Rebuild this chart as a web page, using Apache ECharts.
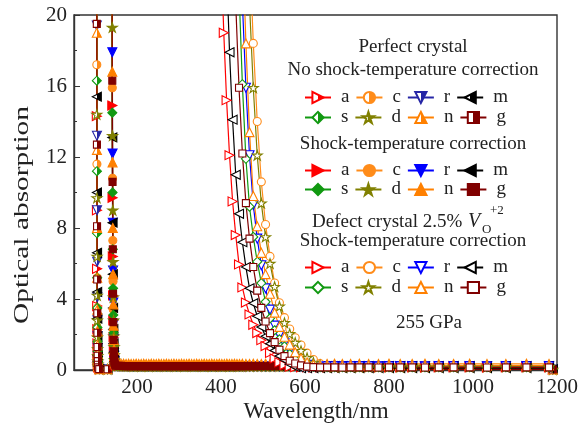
<!DOCTYPE html>
<html><head><meta charset="utf-8">
<script src="https://cdn.jsdelivr.net/npm/echarts@6/dist/echarts.min.js"></script>
<style>html,body{margin:0;padding:0;background:#fff}#c{width:587px;height:425px}</style>
</head><body><div id="c"></div>
<script>
const FONT = 'Liberation Serif';
const keys = ['a','c','r','m','s','d','n','g'];
const xTickLabels = [200,400,600,800,1000,1200];
const xMinorTicks = [100,300,500,700,900,1100];

// ---- Perfect crystal, no shock-temperature correction (edge near 105 nm)
const e1Wl = [104.0,104.3,104.6,104.9,105.2,105.5,105.8,106.1,106.4,106.7,107.0,107.3];
const nc_a = [22.5,14.3,9.0,5.7,3.6,2.3,1.5,0.95,0.6,0.38,0.24,0.15];
const nc_c = [26,17.2,11.6,7.8,5.2,3.5,2.3,1.5,1.0,0.65,0.4,0.25];
const nc_r = [28.5,19.4,13.2,9.0,6.1,4.1,2.8,1.9,1.25,0.8,0.5,0.3];
const nc_m = [23.5,15.4,10.0,6.6,4.4,2.9,1.9,1.25,0.8,0.5,0.3,0.18];
const nc_s = [23.8,16.3,11.2,7.7,5.2,3.5,2.4,1.6,1.05,0.7,0.45,0.28];
const nc_d = [21.5,14.4,9.7,6.4,4.2,2.8,1.85,1.2,0.8,0.5,0.32,0.2];
const nc_n = [29.5,19.0,12.4,8.0,5.2,3.4,2.2,1.4,0.9,0.55,0.35,0.2];
const nc_g = [30,19.5,12.7,8.1,5.1,3.2,2.1,1.3,0.8,0.5,0.3,0.15];
const tail1Wl = [110,130,1190];
const tail1Y = [0.05,0.04,0.03];

// ---- Perfect crystal, shock-temperature correction (edge near 143 nm)
const e2Wl = [140.0,140.6,141.2,141.8,142.4,143.0,143.6,144.2,144.8,145.4,146.0,146.6,147.2];
const sc_a = [33,22.6,14.9,9.7,6.4,4.2,2.8,1.85,1.2,0.8,0.55,0.38,0.3];
const sc_c = [34,23.3,15.9,10.8,7.3,5.0,3.4,2.3,1.55,1.05,0.7,0.45,0.3];
const sc_r = [39,26.5,17.9,12.2,8.3,5.6,3.8,2.6,1.75,1.2,0.8,0.5,0.32];
const sc_m = [30,20.4,13.1,8.3,5.4,3.5,2.3,1.5,1.0,0.65,0.45,0.33,0.28];
const sc_s = [31,21,14.5,10.0,6.8,4.6,3.1,2.1,1.4,0.95,0.62,0.42,0.3];
const sc_d = [42,28.5,19.3,13.2,9.0,6.1,4.1,2.8,1.9,1.3,0.85,0.55,0.35];
const sc_n = [36,24.5,16.8,11.7,8.0,5.4,3.7,2.5,1.7,1.15,0.8,0.55,0.38];
const sc_g = [39,25.3,16.3,10.6,6.8,4.3,2.7,1.7,1.05,0.7,0.5,0.38,0.3];
const baseWl = [150,156,162,168,174,180,186,192,198,204,210,216,222,228,234,240,246,252,258,264,
  270,276,282,288,294,300,306,312,318,324,330,336,342,348,354,360,366,372,378,384,
  390,396,402,408,414,420,426,432,438,444,
  450.9,459.3,467.9,476.9,486.3,496.0,506.1,516.7,527.7,539.1,551.1,563.6,576.7,590.5,604.9,620.0,635.9,
  652.6,670.3,688.9,708.6,729.4,751.5,775.0,800.0,826.7,855.2,885.7,918.5,953.8,992.0,1033.3,1078.3,1127.3,1181.0];
const base2 = [0.24,0.23,0.23,0.22,0.22,0.22,0.22,0.21,0.22,0.22,0.21,0.22,0.22,0.21,0.22,0.22,0.21,0.22,0.22,0.22,
  0.21,0.22,0.22,0.22,0.21,0.22,0.22,0.21,0.22,0.22,0.22,0.21,0.22,0.22,0.22,0.21,0.22,0.22,0.21,0.22,
  0.22,0.22,0.21,0.22,0.22,0.21,0.22,0.22,0.22,0.21,
  0.22,0.22,0.21,0.22,0.22,0.22,0.21,0.22,0.22,0.21,0.22,0.22,0.22,0.21,0.22,0.22,0.21,
  0.22,0.22,0.22,0.21,0.22,0.22,0.21,0.22,0.22,0.22,0.21,0.22,0.22,0.22,0.21,0.22,0.22,0.22];
const base2n = [0.37,0.36,0.35,0.35,0.34,0.35,0.34,0.34,0.35,0.34,0.34,0.35,0.34,0.34,0.35,0.34,0.34,0.35,0.34,0.34,
  0.35,0.34,0.34,0.35,0.34,0.34,0.35,0.34,0.34,0.35,0.34,0.34,0.35,0.34,0.34,0.35,0.34,0.34,0.35,0.34,
  0.34,0.35,0.34,0.34,0.35,0.34,0.34,0.35,0.34,0.34,
  0.35,0.34,0.34,0.35,0.34,0.34,0.35,0.34,0.34,0.35,0.34,0.34,0.35,0.34,0.34,0.35,0.34,
  0.34,0.35,0.34,0.34,0.35,0.34,0.34,0.35,0.34,0.34,0.35,0.34,0.34,0.35,0.34,0.34,0.35,0.34];

// ---- Defect crystal 2.5% V_O^{+2}, shock-temperature correction (edges 400-650 nm)
const defWl = [393.7,400.0,406.6,413.3,420.3,427.6,435.1,442.9,450.9,459.3,467.9,476.9,486.3,496.0,506.1,516.7,
  527.7,539.1,551.1,563.6,576.7,590.5,604.9,620.0,635.9,652.6,670.3,688.9,708.6,729.4,751.5,775.0,800.0,
  826.7,855.2,885.7,918.5,953.8,992.0,1033.3,1078.3,1127.3,1181.0];
const df_a = [29.1,23.6,19.0,15.2,12.1,9.5,7.6,5.95,4.65,3.8,3.13,2.55,2.08,1.68,1.35,0.96,0.65,0.43,0.28,0.19,0.16,
  0.15,0.15,0.14,0.15,0.15,0.15,0.14,0.15,0.15,0.15,0.14,0.15,0.15,0.15,0.14,0.15,0.15,0.15,0.14,0.15,0.15,0.15];
const df_m = [null,35.1,28.2,22.6,17.9,14.1,11.0,8.8,7.2,5.8,4.6,3.76,3.03,2.42,1.90,1.48,1.10,0.79,0.56,0.33,0.17,
  0.10,0.10,0.11,0.10,0.10,0.11,0.10,0.10,0.11,0.10,0.10,0.11,0.10,0.10,0.11,0.10,0.10,0.11,0.10,0.10,0.11,0.10];
const df_g = [null,null,null,null,33.6,26.4,20.6,15.9,12.2,9.4,7.4,5.8,4.47,3.5,2.73,2.08,1.57,1.14,0.78,0.52,0.37,
  0.26,0.19,0.16,0.15,0.15,0.15,0.14,0.15,0.15,0.15,0.14,0.15,0.15,0.15,0.14,0.15,0.15,0.15,0.14,0.15,0.15,0.15];
const df_s = [null,null,null,null,null,35.5,27.7,21.4,16.1,11.9,9.2,7.5,6.1,4.9,3.84,2.91,2.24,1.73,1.33,0.90,0.59,
  0.38,0.24,0.18,0.16,0.16,0.16,0.15,0.16,0.16,0.16,0.15,0.16,0.16,0.16,0.15,0.16,0.16,0.16,0.15,0.16,0.16,0.16];
const df_r = [null,null,null,null,null,null,34.0,26.7,20.7,15.9,12.1,9.3,7.4,5.9,4.6,3.4,2.5,1.96,1.51,1.10,0.74,
  0.50,0.29,0.21,0.20,0.20,0.20,0.19,0.20,0.20,0.20,0.19,0.20,0.20,0.20,0.19,0.20,0.20,0.20,0.19,0.20,0.20,0.20];
const df_n = [null,null,null,null,null,null,null,31.8,24.4,18.4,13.4,9.8,8.1,6.6,5.4,4.3,3.23,2.43,1.87,1.43,1.0,
  0.66,0.43,0.30,0.26,0.25,0.25,0.24,0.25,0.25,0.25,0.24,0.25,0.25,0.25,0.24,0.25,0.25,0.25,0.24,0.25,0.25,0.25];
const df_d = [null,null,null,null,null,null,null,null,33.7,26.4,20.6,15.9,12.1,9.4,7.5,6.0,4.7,3.59,2.66,2.04,1.55,
  1.09,0.69,0.43,0.26,0.19,0.18,0.18,0.18,0.17,0.18,0.18,0.18,0.17,0.18,0.18,0.18,0.17,0.18,0.18,0.18,0.17,0.18];
const df_c = [null,null,null,null,null,null,null,null,null,30.6,23.8,18.4,14.0,10.6,8.2,6.4,4.9,3.79,2.95,2.31,1.82,
  1.41,0.95,0.59,0.36,0.24,0.22,0.22,0.22,0.21,0.22,0.22,0.22,0.21,0.22,0.22,0.22,0.21,0.22,0.22,0.22,0.21,0.22];

// ---- styles
const COL1 = {a:'#ff0000', c:'#ff8c1a', r:'#2626a6', m:'#000000', s:'#119911', d:'#808000', n:'#ff8000', g:'#800000'};
const COL = {a:'#ff0000', c:'#ff8c1a', r:'#0000ff', m:'#000000', s:'#119911', d:'#808000', n:'#ff8000', g:'#800000'};
const SYM = {
  a:'path://M0,0L10,5L0,10Z', c:'circle', r:'path://M0,0L10,0L5,10Z', m:'path://M10,0L0,5L10,10Z',
  s:'diamond', d:'path://M5,0L6.2,3.6L10,3.6L6.9,5.9L8.1,9.5L5,7.3L1.9,9.5L3.1,5.9L0,3.6L3.8,3.6Z',
  n:'triangle', g:'rect'};
const SIZE = {a:9, c:8, r:9, m:9, s:9, d:10, n:9, g:7};

function pairs(xs, ys) {
  const out = [];
  for (let i = 0; i < xs.length; i++) if (ys[i] != null) out.push([xs[i], ys[i]]);
  return out;
}
const half = c => ({type:'linear', x:0, y:0, x2:1, y2:0, colorStops:[
  {offset:0,color:'#ffffff'},{offset:0.5,color:'#ffffff'},{offset:0.5,color:c},{offset:1,color:c}]});

const G1 = {a:nc_a,c:nc_c,r:nc_r,m:nc_m,s:nc_s,d:nc_d,n:nc_n,g:nc_g};
const G2 = {a:sc_a,c:sc_c,r:sc_r,m:sc_m,s:sc_s,d:sc_d,n:sc_n,g:sc_g};
const G3 = {a:df_a,c:df_c,r:df_r,m:df_m,s:df_s,d:df_d,n:df_n,g:df_g};

function mk(name, k, data, color, fill, z) {
  return {
    name, type:'line', data, symbol:SYM[k], symbolSize:SIZE[k], symbolKeepAspect:true,
    lineStyle:{color, width:1.2}, itemStyle:{color:fill, borderColor:color, borderWidth:1.1},
    z, silent:true, animation:false, clip:true, emphasis:{disabled:true}, legendHoverLink:false
  };
}
const series = [];
keys.forEach(k => series.push(mk(k+'1', k,
  pairs(e1Wl, G1[k]).concat(pairs(tail1Wl, tail1Y)), COL1[k], half(COL1[k]), 2)));
keys.forEach(k => series.push(mk(k+'2', k,
  pairs(e2Wl, G2[k]).concat(pairs(baseWl, k === 'n' ? base2n : base2)), COL[k], COL[k], 3)));
keys.forEach(k => series.push(mk(k+'3', k, pairs(defWl, G3[k]), COL[k], '#ffffff', 4)));

function legendRow(names, top) {
  return {
    data: names, left: 304, top, orient:'horizontal', padding:0,
    itemWidth:26, itemHeight:14, itemGap:6, selectedMode:false,
    formatter: n => n.charAt(0),
    textStyle:{fontFamily:FONT, fontSize:19, color:'#222', width:15, padding:[0,0,0,5]}
  };
}
const row1 = ['a','c','r','m'], row2 = ['s','d','n','g'];
const legends = [
  legendRow(row1.map(k=>k+'1'), 88), legendRow(row2.map(k=>k+'1'), 108),
  legendRow(row1.map(k=>k+'2'), 161), legendRow(row2.map(k=>k+'2'), 180),
  legendRow(row1.map(k=>k+'3'), 258), legendRow(row2.map(k=>k+'3'), 278)
];

function txt(text, x, y, size, align, extra) {
  return Object.assign({type:'text', x, y, silent:true, z:50, style:{
    text, fontFamily:FONT, fontSize:size, fill:'#222',
    textAlign:align, align:align, textVerticalAlign:'middle', verticalAlign:'middle'}}, extra || {});
}
const graphics = [
  txt('Perfect crystal', 413, 47, 19, 'center'),
  txt('No shock-temperature correction', 413, 70, 19, 'center'),
  txt('Shock-temperature correction', 413, 144, 19, 'center'),
  txt('Defect crystal 2.5%', 312, 222, 19, 'left'),
  {type:'text', x:468, y:222, silent:true, z:50, style:{text:'V', fontFamily:FONT, fontSize:20, fontStyle:'italic', fill:'#222', textAlign:'left', align:'left', textVerticalAlign:'middle', verticalAlign:'middle'}},
  txt('O', 482, 230, 13, 'left'),
  txt('+2', 490, 211, 13, 'left'),
  txt('Shock-temperature correction', 413, 241, 19, 'center'),
  txt('255 GPa', 429, 323, 19, 'center'),
  txt('Optical absorption', 22, 215, 21, 'center', {rotation: Math.PI/2, scaleX: 1.4}),
  txt('Wavelength/nm', 316, 412, 23, 'center')
];

const chart = echarts.init(document.getElementById('c'), null, {renderer:'canvas'});
chart.setOption({
  animation:false,
  backgroundColor:'#ffffff',
  grid:{left:74, right:30, top:15, bottom:55, show:true, borderColor:'#333', borderWidth:1.4, backgroundColor:'transparent'},
  legend: legends,
  xAxis:[{
    type:'value', min:50, max:1200,
    axisLine:{show:true, lineStyle:{color:'#333', width:1.4}},
    axisTick:{show:true, inside:true, length:6, customValues:xTickLabels, lineStyle:{color:'#333', width:1}},
    axisLabel:{customValues:xTickLabels, formatter: v => String(v), fontFamily:FONT, fontSize:21, color:'#222', margin:7},
    splitLine:{show:false}
  },{
    type:'value', min:50, max:1200, position:'bottom',
    axisLine:{show:false}, axisLabel:{show:false}, splitLine:{show:false},
    axisTick:{show:true, inside:true, length:3, customValues:xMinorTicks, lineStyle:{color:'#333', width:1}}
  }],
  yAxis:{
    type:'value', min:0, max:20, interval:4,
    axisLine:{show:true, lineStyle:{color:'#333', width:1.4}},
    axisTick:{show:true, inside:true, length:6, lineStyle:{color:'#333', width:1}},
    minorTick:{show:true, splitNumber:2, length:3, lineStyle:{color:'#333', width:1}},
    axisLabel:{formatter: v => String(v), fontFamily:FONT, fontSize:21, color:'#222', margin:7},
    splitLine:{show:false}, minorSplitLine:{show:false}
  },
  graphic: graphics,
  series
});
</script></body></html>
